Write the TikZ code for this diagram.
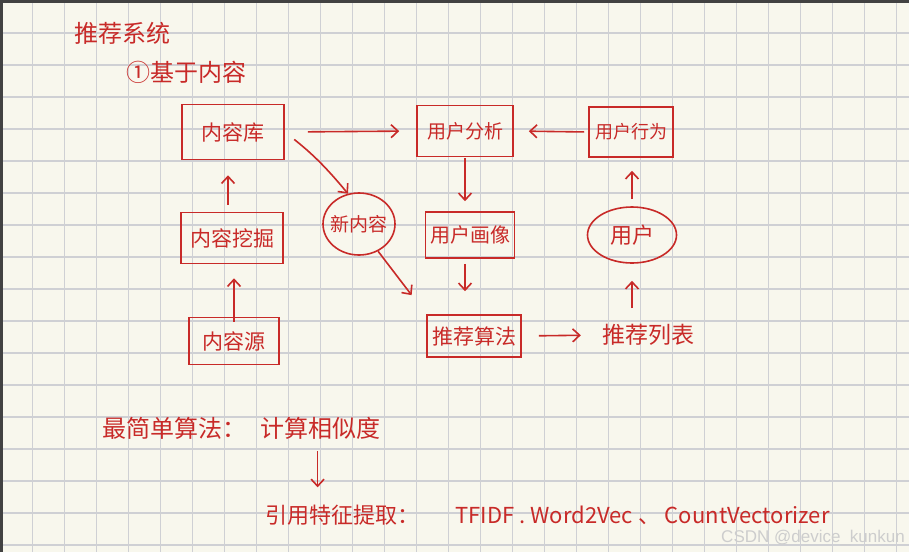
\documentclass[tikz,border=0pt]{standalone}
\usepackage{fontspec}
\newfontfamily\cjk{Noto Sans CJK SC}
\newfontfamily\wmfont{Liberation Sans}
\usetikzlibrary{positioning,arrows.meta,calc,shapes.geometric}
\definecolor{ink}{RGB}{200,42,40}
\definecolor{paper}{RGB}{248,247,237}
\definecolor{gridc}{RGB}{207,208,212}
\definecolor{framec}{RGB}{66,66,66}
\definecolor{wm}{RGB}{205,205,205}
\newcommand\hz[1]{\cjk\fontsize{#1}{#1}\selectfont}

\begin{document}
\begin{tikzpicture}[x=1pt,y=-1pt]
	\tikzset{
	    box/.style={draw=ink, line width=1.6pt, text=ink, inner sep=0pt, font=\hz{21}},
	    blob/.style={ellipse, draw=ink, line width=1.6pt, inner sep=0pt},
	    hand/.style={text=ink, inner sep=0pt},
	    flow/.style={->, draw=ink, line width=1.6pt},
	    >={Straight Barb[length=7pt,width=13pt]}
	}

	% paper
	\useasboundingbox (0,0) rectangle (909,552);
	\fill[paper] (0,0) rectangle (909,552);
	\foreach \i in {0,...,27}
	    \draw[gridc, line width=1.6pt] (32.3+32*\i,0) -- (32.3+32*\i,552);
	\foreach \j in {0,...,16}
	    \draw[gridc, line width=1.6pt] (0,32.7+32*\j) -- (909,32.7+32*\j);
	\fill[framec] (0,0) rectangle (909,2.5);
	\fill[framec] (0,0) rectangle (2.5,552);

	\node[hand, font=\hz{24}] (title) at (122,33) {推荐系统};
	\node[hand, font=\hz{24}] (jiyu) at (186,72) {①基于内容};

	\node[box, minimum width=102pt, minimum height=55pt] (ku) at (233,132) {内容库};
	\node[box, minimum width=102pt, minimum height=51pt] (wajue) at (232,238) {内容挖掘};
	\node[box, minimum width=90pt, minimum height=47pt] (yuan) at (234,341) {内容源};
	\node[blob, minimum width=72pt, minimum height=62pt,
	      label={[hand, font=\hz{19}]center:新内容}] (xin) at (359,224) {};

	\node[box, minimum width=96pt, minimum height=51pt, font=\hz{19}] (fenxi) at (465,131) {用户分析};
	\node[box, minimum width=84pt, minimum height=50pt, font=\hz{18}] (xingwei) at (631,132) {用户行为};
	\node[box, minimum width=89pt, minimum height=46pt, font=\hz{20}] (huaxiang) at (470,235) {用户画像};
	\node[box, minimum width=94pt, minimum height=42pt] (suanfa) at (474,336) {推荐算法};
	\node[hand, font=\hz{23}] (liebiao) at (648,335) {推荐列表};
	\node[blob, minimum width=89pt, minimum height=56pt,
	      label={[hand, font=\hz{22}]center:用户}] (yonghu) at (632,235) {};

	\draw[flow, shorten <=23pt, shorten >=17pt] (ku.east) -- (fenxi.west);
	\draw[flow, shorten <=7pt, shorten >=15pt] ([xshift=-4pt]wajue.north) -- ([xshift=-4pt]wajue.north |- ku.south);
	\draw[flow, shorten <=-5pt, shorten >=14pt] (yuan.north) -- (yuan.north |- wajue.south);
	\draw[flow, shorten <=12pt] (ku.east) to[bend left=6] (xin.110);
	\draw[flow, shorten >=24pt] (xin.-55) -- (suanfa.north west);
	\draw[flow, shorten <=1pt, shorten >=10pt] (fenxi.south) -- (fenxi.south |- huaxiang.north);
	\draw[flow, shorten <=5pt, shorten >=23pt] ([xshift=-5pt]huaxiang.south) -- ([xshift=-5pt]huaxiang.south |- suanfa.north);
	\draw[flow, shorten <=17pt, shorten >=21pt] (suanfa.east) -- (liebiao.west);
	\draw[flow, shorten <=16pt, shorten >=17pt] (yonghu.south |- liebiao.north) -- (yonghu.south);
	\draw[flow, shorten <=7pt, shorten >=13pt] (yonghu.north) -- (yonghu.north |- xingwei.south);
	\draw[flow, shorten <=4pt, shorten >=15pt] (xingwei.west) -- (fenxi.east);

	% similarity
	\node[hand, font=\hz{24}, anchor=west] (zuijian) at (102,428) {最简单算法：};
	\node[hand, font=\hz{24}, right=14pt of zuijian] (xiangsi) {计算相似度};
	\node[hand, font=\hz{22}, anchor=west] (yinyong) at (265,515) {引用特征提取：};
	\node[hand, font=\hz{22}, right=36pt of yinyong] (fangfa) {TFIDF . Word2Vec 、 CountVectorizer};
	\coordinate (jiantou) at ($(xiangsi.south)+(-3,48)$);
	\draw[flow, shorten <=12pt] ([xshift=-3pt]xiangsi.south) -- (jiantou);

	\node[anchor=east, text=wm, inner sep=0pt, font=\wmfont\fontsize{17}{17}\selectfont] (csdn) at (905,538) {CSDN @device\_kunkun};
\end{tikzpicture}
\end{document}
